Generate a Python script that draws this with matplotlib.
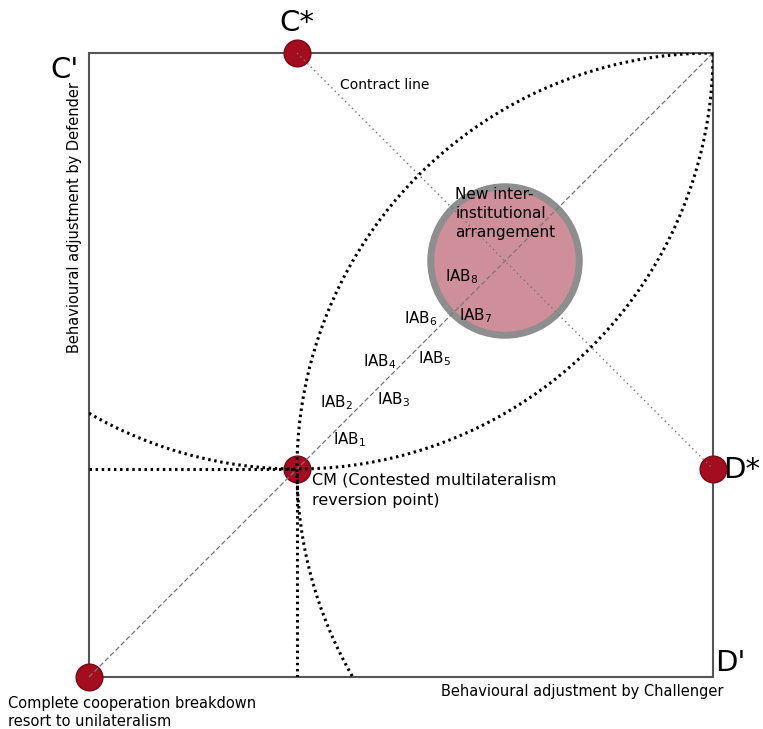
import matplotlib
matplotlib.use("Agg")
import matplotlib.pyplot as plt
from matplotlib.patches import Arc, Circle, Rectangle

# ---- data (box coordinates 0..1) ----
point_names = ["origin", "CM", "C*", "D*"]
point_x = [0.0, 1/3, 1/3, 1.0]
point_y = [0.0, 1/3, 1.0, 1/3]

cm_x, cm_y = 1/3, 1/3
arrangement_center = (2/3, 2/3)
arrangement_radius = 0.119

iab_labels = ["IAB$_1$", "IAB$_2$", "IAB$_3$", "IAB$_4$",
              "IAB$_5$", "IAB$_6$", "IAB$_7$", "IAB$_8$"]
iab_x = [0.391, 0.370, 0.462, 0.439, 0.527, 0.505, 0.593, 0.571]
iab_y = [0.380, 0.439, 0.444, 0.505, 0.510, 0.574, 0.579, 0.641]

plt.rcParams['font.family'] = ['DejaVu Sans']

fig = plt.figure(figsize=(7.63, 7.29), dpi=100)
ax = fig.add_axes([89/763, (729-677)/729, 624/763, 624/729])
ax.set_xlim(0, 1)
ax.set_ylim(0, 1)
ax.axis('off')

dot_color = '#a30d1f'
dot_edge = '#7a0a17'

# box
ax.add_patch(Rectangle((0, 0), 1, 1, fill=False, edgecolor='#555555', lw=1.5, zorder=1, clip_on=False))

# new arrangement circle
ax.add_patch(Circle(arrangement_center, arrangement_radius, facecolor='#cf8f9a',
                    edgecolor='#8e8e8e', lw=5, zorder=2))

# diagonal
ax.plot([0, 1], [0, 1], color='#777777', lw=0.9, ls=(0, (4, 2)), zorder=5, clip_on=False)
# contract line
ax.plot([point_x[2], point_x[3]], [point_y[2], point_y[3]], color='#777777', lw=1.0,
        ls=(0, (1, 2.5)), zorder=5, clip_on=False)

# indifference arcs
ax.add_patch(Arc((point_x[3], point_y[3]), 4/3, 4/3, theta1=90, theta2=210,
                 color='black', lw=2.2, ls=(0, (0.8, 1.2)), zorder=6))
ax.add_patch(Arc((point_x[2], point_y[2]), 4/3, 4/3, theta1=240, theta2=360,
                 color='black', lw=2.2, ls=(0, (0.8, 1.2)), zorder=6))

# straight dotted lines from CM
ax.plot([0, cm_x], [cm_y, cm_y], color='black', lw=2.2, ls=(0, (0.8, 1.2)), zorder=6)
ax.plot([cm_x, cm_x], [0, cm_y], color='black', lw=2.2, ls=(0, (0.8, 1.2)), zorder=6)

# points
ax.scatter(point_x, point_y, s=370, color=dot_color, edgecolor=dot_edge, lw=1,
           zorder=4, clip_on=False)

# big labels
big = 21
ax.text(-0.040, 0.973, "C'", fontsize=big, ha='center', va='center')
ax.text(1/3, 1.048, "C*", fontsize=big, ha='center', va='center')
ax.text(1.016, 0.332, "D*", fontsize=big, ha='left', va='center')
ax.text(1.004, 0.022, "D'", fontsize=big, ha='left', va='center')

# other texts
ax.text(0.402, 0.949, "Contract line", fontsize=10, ha='left', va='center')
ax.text(-0.024, 0.736, "Behavioural adjustment by Defender", fontsize=10.5,
        rotation=90, ha='center', va='center')
ax.text(0.790, -0.024, "Behavioural adjustment by Challenger", fontsize=10.5,
        ha='center', va='center')
ax.text(-0.130, -0.030, "Complete cooperation breakdown\nresort to unilateralism",
        fontsize=10.5, ha='left', va='top', linespacing=1.3)
ax.text(0.357, 0.327, "CM (Contested multilateralism\nreversion point)",
        fontsize=11.5, ha='left', va='top', linespacing=1.4)
ax.text(0.587, 0.786, "New inter-\ninstitutional\narrangement",
        fontsize=11, ha='left', va='top', linespacing=1.35, zorder=7)

for lab, x, y in zip(iab_labels, iab_x, iab_y):
    ax.text(x, y, lab, fontsize=11, ha='left', va='center', zorder=7)

fig.savefig("out.png", dpi=100)
